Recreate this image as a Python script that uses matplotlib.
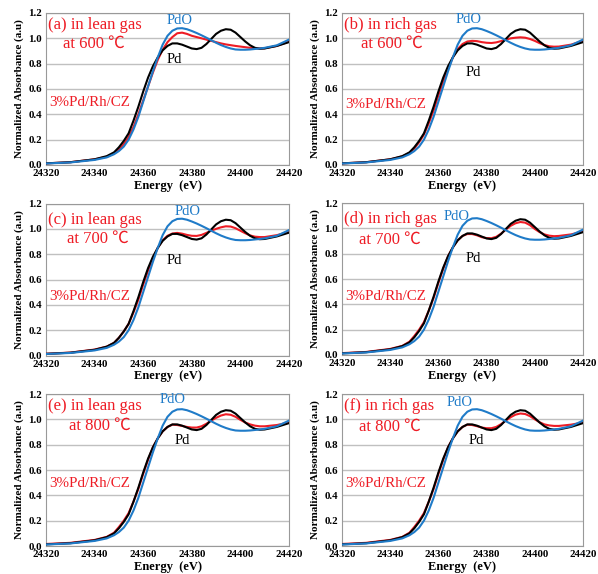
import matplotlib
matplotlib.use("Agg")
import matplotlib.pyplot as plt

# energy grid (eV)
energy = [24320, 24330, 24340, 24345, 24348, 24350, 24352, 24354, 24356, 24358,
          24360, 24362, 24364, 24366, 24368, 24370, 24372, 24374, 24376, 24378,
          24380, 24382, 24384, 24386, 24388, 24390, 24392, 24394, 24396, 24398,
          24400, 24402, 24404, 24406, 24408, 24410, 24415, 24420]

# references
pd_ref = [0.013, 0.022, 0.045, 0.07, 0.10, 0.14, 0.19, 0.25, 0.35, 0.46,
          0.58, 0.69, 0.78, 0.85, 0.905, 0.94, 0.96, 0.96, 0.95, 0.935,
          0.92, 0.915, 0.925, 0.955, 0.995, 1.035, 1.06, 1.072, 1.068, 1.045,
          1.01, 0.975, 0.945, 0.925, 0.918, 0.92, 0.94, 0.97]
pdo_ref = [0.012, 0.02, 0.04, 0.06, 0.085, 0.11, 0.145, 0.2, 0.28, 0.38,
           0.5, 0.62, 0.74, 0.85, 0.95, 1.02, 1.06, 1.078, 1.08, 1.072,
           1.058, 1.042, 1.024, 1.005, 0.985, 0.965, 0.947, 0.932, 0.92, 0.912,
           0.91, 0.91, 0.912, 0.916, 0.92, 0.925, 0.945, 0.99]

# 3%Pd/Rh/CZ samples
lean_600 = [0.013, 0.022, 0.045, 0.065, 0.09, 0.12, 0.165, 0.22, 0.3, 0.4,
            0.51, 0.62, 0.73, 0.83, 0.91, 0.97, 1.01, 1.04, 1.045, 1.035,
            1.02, 1.01, 1.0, 0.99, 0.98, 0.97, 0.96, 0.952, 0.946, 0.94,
            0.935, 0.93, 0.925, 0.922, 0.92, 0.922, 0.94, 0.975]
rich_600 = [0.013, 0.022, 0.045, 0.068, 0.095, 0.13, 0.18, 0.24, 0.33, 0.43,
            0.55, 0.66, 0.76, 0.85, 0.915, 0.955, 0.975, 0.98, 0.978, 0.97,
            0.965, 0.963, 0.968, 0.978, 0.99, 1.0, 1.005, 1.008, 1.005, 0.995,
            0.98, 0.962, 0.947, 0.937, 0.934, 0.935, 0.95, 0.98]
lean_700 = [0.014, 0.023, 0.047, 0.07, 0.10, 0.14, 0.19, 0.25, 0.34, 0.44,
            0.56, 0.67, 0.77, 0.85, 0.91, 0.945, 0.963, 0.968, 0.962, 0.952,
            0.945, 0.944, 0.952, 0.968, 0.985, 1.0, 1.012, 1.02, 1.018, 1.005,
            0.985, 0.965, 0.948, 0.938, 0.935, 0.935, 0.95, 0.975]
rich_700 = [0.015, 0.024, 0.048, 0.072, 0.105, 0.15, 0.2, 0.26, 0.35, 0.45,
            0.57, 0.68, 0.78, 0.85, 0.905, 0.94, 0.955, 0.955, 0.945, 0.93,
            0.923, 0.922, 0.933, 0.958, 0.99, 1.02, 1.04, 1.05, 1.045, 1.025,
            0.995, 0.97, 0.952, 0.942, 0.938, 0.94, 0.952, 0.975]
lean_800 = [0.016, 0.025, 0.048, 0.072, 0.105, 0.15, 0.2, 0.26, 0.35, 0.45,
            0.57, 0.68, 0.78, 0.85, 0.905, 0.94, 0.958, 0.955, 0.948, 0.94,
            0.935, 0.935, 0.945, 0.965, 0.99, 1.012, 1.03, 1.04, 1.036, 1.02,
            0.996, 0.975, 0.96, 0.95, 0.945, 0.945, 0.955, 0.975]
rich_800 = [0.016, 0.025, 0.048, 0.072, 0.105, 0.15, 0.2, 0.26, 0.35, 0.45,
            0.57, 0.68, 0.78, 0.85, 0.905, 0.94, 0.958, 0.955, 0.946, 0.935,
            0.93, 0.93, 0.94, 0.962, 0.99, 1.017, 1.037, 1.046, 1.042, 1.025,
            1.0, 0.977, 0.96, 0.952, 0.948, 0.948, 0.958, 0.975]

labels = ["(a) in lean gas", "(b) in rich gas", "(c) in lean gas",
          "(d) in rich gas", "(e) in lean gas", "(f) in rich gas"]
temps = ["at 600 \u2103", "at 600 \u2103", "at 700 \u2103",
         "at 700 \u2103", "at 800 \u2103", "at 800 \u2103"]
samples = [lean_600, rich_600, lean_700, rich_700, lean_800, rich_800]

RED = "#ee1c25"
BLUE = "#1f7bc8"
serif = ["Liberation Serif", "Noto Sans CJK SC", "DejaVu Sans"]

# panel geometry in pixels (left, top, width) and label positions
W, H = 598, 574
lefts = [46, 342, 46, 342, 46, 342]
widths = [243, 241, 243, 241, 243, 241]
tops = [13, 13, 203.5, 203, 394, 394]
ah = 152
# (label y frac, temp x frac, temp y frac, PdO x,y, Pd x,y, sample y)
pos = [
    (0.921, 0.07, 0.796, 24375, 1.137, 24373, 0.829, 0.49),
    (0.921, 0.08, 0.796, 24372.5, 1.145, 24374.5, 0.734, 0.48),
    (0.892, 0.085, 0.766, 24378.4, 1.135, 24373, 0.748, 0.464),
    (0.892, 0.07, 0.760, 24367.5, 1.09, 24374.5, 0.763, 0.46),
    (0.921, 0.095, 0.790, 24372, 1.153, 24376, 0.83, 0.49),
    (0.921, 0.07, 0.786, 24368.8, 1.13, 24375.7, 0.83, 0.49),
]

fig = plt.figure(figsize=(W / 100, H / 100), dpi=100)

for i in range(6):
    ax = fig.add_axes([lefts[i] / W, (H - tops[i] - ah) / H,
                       widths[i] / W, ah / H])
    ax.plot(energy, samples[i], color=RED, lw=1.5, zorder=3)
    ax.plot(energy, pd_ref, color="black", lw=1.5, zorder=4)
    ax.plot(energy, pdo_ref, color=BLUE, lw=1.5, zorder=5)
    ax.set_xlim(24320, 24420)
    ax.set_ylim(0, 1.2)
    ax.set_xticks(range(24320, 24421, 20))
    ax.set_yticks([0.0, 0.2, 0.4, 0.6, 0.8, 1.0, 1.2])
    ax.set_yticklabels(["%.1f" % v for v in ax.get_yticks()])
    ax.grid(axis="y", color="#c0c0c0", lw=1.0)
    ax.set_axisbelow(True)
    for s in ax.spines.values():
        s.set_color("#999999")
        s.set_linewidth(0.8)
    ax.tick_params(length=0, pad=3, labelsize=7.8)
    for t in ax.get_xticklabels() + ax.get_yticklabels():
        t.set_fontfamily(serif)
        t.set_fontweight("bold")
    ax.set_xlabel("Energy  (eV)", fontfamily=serif, fontweight="bold",
                  fontsize=9, labelpad=1)
    ax.set_ylabel("Normalized Absorbance (a.u)", fontfamily=serif,
                  fontweight="bold", fontsize=8, labelpad=3)

    ly, tx, ty, px, py, dx, dy, sy = pos[i]
    ax.text(0.008, ly, labels[i], transform=ax.transAxes, color=RED,
            fontsize=12, fontfamily=serif, va="center", ha="left", zorder=6)
    ax.text(tx, ty, temps[i], transform=ax.transAxes, color=RED,
            fontsize=12, fontfamily=serif, va="center", ha="left", zorder=6)
    ax.text(px, py, "PdO", color=BLUE, fontsize=10.5, fontfamily=serif,
            va="center", ha="center", zorder=6)
    ax.text(dx, dy, "Pd", color="black", fontsize=10.5, fontfamily=serif,
            va="center", ha="center", zorder=6)
    ax.text(0.012, sy / 1.2, "3%Pd/Rh/CZ", transform=ax.transAxes,
            color=RED, fontsize=10.8, fontfamily=serif, va="center",
            ha="left", zorder=6)

fig.savefig("out.png", dpi=100)
